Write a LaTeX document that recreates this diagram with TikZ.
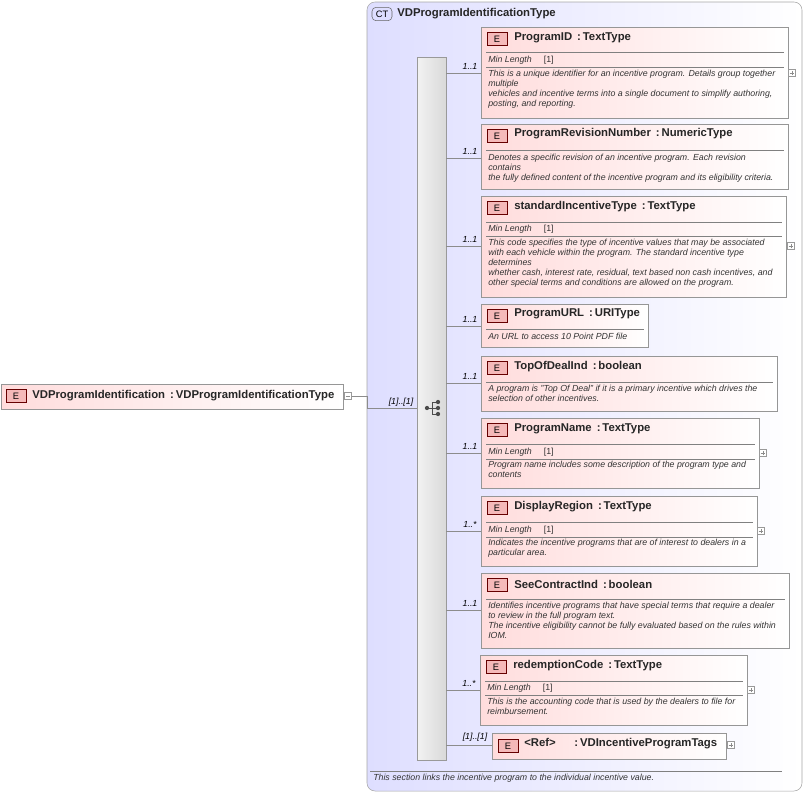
\documentclass[tikz,border=0pt]{standalone}
\usepackage{fontspec}
\setmainfont{Liberation Sans}
\usetikzlibrary{fit,calc}
\definecolor{ctbg}{RGB}{222,222,255}
\definecolor{epink}{RGB}{255,220,220}
\definecolor{badge}{RGB}{245,185,185}
\definecolor{bordr}{RGB}{150,150,150}
\tikzset{
 ebox/.style={draw=bordr, left color=epink, right color=white, inner sep=0pt, rectangle},
 badge/.style={draw=black!60!red, fill=badge, minimum width=15pt, minimum height=10pt, inner sep=0pt, font=\fontsize{7}{8}\selectfont},
 ttl/.style={anchor=west, inner sep=0pt, font=\fontsize{8.5}{9.5}\selectfont\bfseries, text=black!85},
 dsc/.style={anchor=north west, inner sep=0pt, align=left, font=\fontsize{6.6}{7.5}\selectfont\itshape, text=black!80},
 ml/.style={anchor=west, inner sep=0pt, font=\fontsize{6.6}{7.5}\selectfont, text=black!80},
 card/.style={anchor=south, inner sep=1pt, font=\fontsize{6.6}{7.5}\selectfont\itshape},
 sep/.style={draw=black!50, line width=0.4pt},
 con/.style={draw=black!45, line width=0.5pt},
 plus/.style={draw=black!40, fill=white, minimum size=5.5pt, inner sep=0pt},
}
\newcommand\pls[3]{\node[plus] (#1) at (#2,#3) {}; \draw[black!45,line width=0.3pt] ($(#1)+(-1.8pt,0)$)--($(#1)+(1.8pt,0)$) ($(#1)+(0,-1.8pt)$)--($(#1)+(0,1.8pt)$);}
\newcommand\mlen[2]{\node[ml] at (#1,#2) {\textit{Min Length}\hspace{9pt}[1]};}
\begin{document}
\begin{tikzpicture}[x=0.75pt,y=-0.75pt]
\useasboundingbox (0,0) rectangle (806,794);
% container
\draw[draw=black!35, left color=ctbg, right color=white, rounded corners=6pt] (367,2) rectangle (802,791);
\node[draw=black!60, fill=ctbg, rounded corners=3pt, minimum width=15pt, minimum height=10pt, inner sep=0pt, font=\fontsize{7}{8}\selectfont] (ctb) at (382,14) {CT};
\node[ttl] (ctt) at (397,14) {VDProgramIdentificationType};
\draw[sep] (370,771) -- (782,771);
\node[dsc] (ctd) at (373,774) {This section links the incentive program to the individual incentive value.};
% root element
\node[ebox, fit={(1,384)(343,409)}] (root) {};
\node[badge] (rb) at (16,396) {E};
\node[ttl] (rt) at (32,396) {VDProgramIdentification \,:\,VDProgramIdentificationType};
\node[plus] (rm) at (348,396) {};
\draw[black!45,line width=0.3pt] ($(rm)+(-1.8pt,0)$)--($(rm)+(1.8pt,0)$);
% sequence bar
\node[draw=black!40, left color=black!5, right color=black!15, inner sep=0pt, fit={(417,57)(446,760)}] (bar) {};
\coordinate (j) at (367,396);
\draw[con] (rm.east) -- (j) -- (367,408) -- (bar.west |- 0,408);
\node[card] at (401,408) {[1]..[1]};
% sequence icon
\node[inner sep=0pt, minimum size=1pt] (si) at (432,408) {};
\fill[black!70] (427,408) circle (1.6pt);
\draw[black!70,line width=0.6pt] (427,408)--(432,408) (432,402)--(432,414) (432,402)--(437,402) (432,408)--(437,408) (432,414)--(437,414);
\fill[black!70] (438,402) circle (1.6pt) (438,408) circle (1.6pt) (438,414) circle (1.6pt);
% 1
\node[ebox, fit={(481,27)(788,118)}] (e1) {};
\node[badge] at (497,39) {E};
\node[ttl] at (514,38) {ProgramID \,:\,TextType};
\draw[sep] (486,52)--(784,52) (486,67)--(784,67);
\mlen{488}{60}
\node[dsc] at (488,70) {This is a unique identifier for an incentive program. Details group together\\multiple\\vehicles and incentive terms into a single document to simplify authoring,\\posting, and reporting.};
\pls{p1}{792}{73}
\coordinate (c1) at (481,73);
\draw[con] (bar.east |- c1) -- (c1); \node[card] at (470,71) {1..1};
% 2
\node[ebox, fit={(481,124)(788,189)}] (e2) {};
\node[badge] at (497,136) {E};
\node[ttl] at (514,134) {ProgramRevisionNumber \,:\,NumericType};
\draw[sep] (486,150)--(784,150);
\node[dsc] at (488,154) {Denotes a specific revision of an incentive program. Each revision\\contains\\the fully defined content of the incentive program and its eligibility criteria.};
\coordinate (c2) at (481,158);
\draw[con] (bar.east |- c2) -- (c2); \node[card] at (470,156) {1..1};
% 3
\node[ebox, fit={(481,196)(786,297)}] (e3) {};
\node[badge] at (497,208) {E};
\node[ttl] at (514,207) {standardIncentiveType \,:\,TextType};
\draw[sep] (486,222)--(782,222) (486,236)--(782,236);
\mlen{488}{229}
\node[dsc] at (488,239) {This code specifies the type of incentive values that may be associated\\with each vehicle within the program. The standard incentive type\\determines\\whether cash, interest rate, residual, text based non cash incentives, and\\other special terms and conditions are allowed on the program.};
\pls{p3}{791}{246}
\coordinate (c3) at (481,246);
\draw[con] (bar.east |- c3) -- (c3); \node[card] at (470,244) {1..1};
% 4
\node[ebox, fit={(481,304)(648,347)}] (e4) {};
\node[badge] at (497,316) {E};
\node[ttl] at (514,314) {ProgramURL \,:\,URIType};
\draw[sep] (486,329)--(644,329);
\node[dsc] at (488,333) {An URL to access 10 Point PDF file};
\coordinate (c4) at (481,326);
\draw[con] (bar.east |- c4) -- (c4); \node[card] at (470,324) {1..1};
% 5
\node[ebox, fit={(481,356)(777,411)}] (e5) {};
\node[badge] at (497,368) {E};
\node[ttl] at (514,367) {TopOfDealInd \,:\,boolean};
\draw[sep] (486,382)--(773,382);
\node[dsc] at (488,385) {A program is "Top Of Deal" if it is a primary incentive which drives the\\selection of other incentives.};
\coordinate (c5) at (481,383);
\draw[con] (bar.east |- c5) -- (c5); \node[card] at (470,381) {1..1};
% 6
\node[ebox, fit={(481,418)(759,488)}] (e6) {};
\node[badge] at (497,430) {E};
\node[ttl] at (514,429) {ProgramName \,:\,TextType};
\draw[sep] (486,444)--(755,444) (486,459)--(755,459);
\mlen{488}{452}
\node[dsc] at (488,461) {Program name includes some description of the program type and\\contents};
\pls{p6}{763}{453}
\coordinate (c6) at (481,453);
\draw[con] (bar.east |- c6) -- (c6); \node[card] at (470,451) {1..1};
% 7
\node[ebox, fit={(481,496)(757,566)}] (e7) {};
\node[badge] at (497,508) {E};
\node[ttl] at (514,507) {DisplayRegion \,:\,TextType};
\draw[sep] (486,522)--(753,522) (486,537)--(753,537);
\mlen{488}{530}
\node[dsc] at (488,539) {Indicates the incentive programs that are of interest to dealers in a\\particular area.};
\pls{p7}{761}{531}
\coordinate (c7) at (481,531);
\draw[con] (bar.east |- c7) -- (c7); \node[card] at (470,529) {1..*};
% 8
\node[ebox, fit={(481,573)(789,648)}] (e8) {};
\node[badge] at (497,585) {E};
\node[ttl] at (514,584) {SeeContractInd \,:\,boolean};
\draw[sep] (486,599)--(785,599);
\node[dsc] at (488,602) {Identifies incentive programs that have special terms that require a dealer\\to review in the full program text.\\The incentive eligibility cannot be fully evaluated based on the rules within\\IOM.};
\coordinate (c8) at (481,610);
\draw[con] (bar.east |- c8) -- (c8); \node[card] at (470,608) {1..1};
% 9
\node[ebox, fit={(480,655)(747,725)}] (e9) {};
\node[badge] at (496,667) {E};
\node[ttl] at (513,666) {redemptionCode \,:\,TextType};
\draw[sep] (485,681)--(743,681) (485,695)--(743,695);
\mlen{487}{688}
\node[dsc] at (487,698) {This is the accounting code that is used by the dealers to file for\\reimbursement.};
\pls{p9}{751}{690}
\coordinate (c9) at (480,690);
\draw[con] (bar.east |- c9) -- (c9); \node[card] at (469,688) {1..*};
% 10
\node[ebox, fit={(492,733)(726,759)}] (e10) {};
\node[badge] at (508,746) {E};
\node[ttl] at (524,744) {<Ref>\hspace{14pt}:\,VDIncentiveProgramTags};
\pls{p10}{731}{745}
\coordinate (c10) at (492,745);
\draw[con] (bar.east |- c10) -- (c10); \node[card] at (475,743) {[1]..[1]};
\end{tikzpicture}
\end{document}
